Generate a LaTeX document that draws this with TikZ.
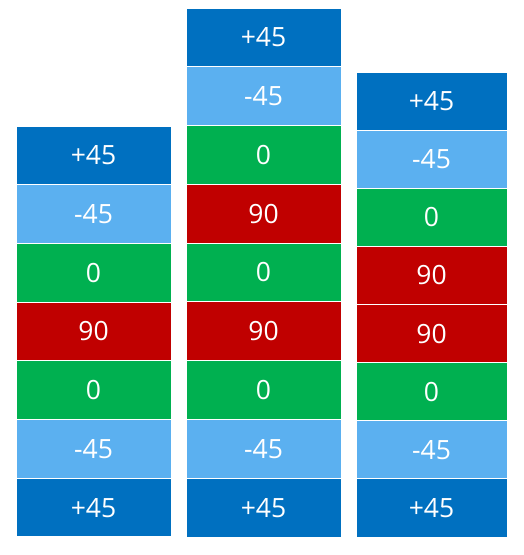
\documentclass[tikz,border=0pt]{standalone}
\usepackage{fontspec}
\setmainfont{Open Sans}
\definecolor{dblue}{HTML}{0070C0}
\definecolor{lblue}{HTML}{5BB0F0}
\definecolor{pgreen}{HTML}{00B050}
\definecolor{pred}{HTML}{C00000}
\tikzset{
  ply/.style={draw=white, line width=1pt, minimum width=155pt, minimum height=#1, inner sep=0pt, outer sep=0pt, text=white, font=\fontsize{26.5}{30}\selectfont, anchor=north},
  p45/.style={ply=#1, fill=dblue},
  m45/.style={ply=#1, fill=lblue},
  z0/.style={ply=#1, fill=pgreen},
  n90/.style={ply=#1, fill=pred},
}
\begin{document}
\begin{tikzpicture}[x=1pt,y=-1pt]
\useasboundingbox (0,0) rectangle (524,555);
% column 1
\foreach \i/\s/\t in {0/p45/+45,1/m45/-45,2/z0/0,3/n90/90,4/z0/0,5/m45/-45,6/p45/+45}{
  \node[\s=58.71pt, minimum width=155pt] (a\i) at (93.5,126+\i*58.71) {\t};
}
% column 2
\foreach \i/\s/\t in {0/p45/+45,1/m45/-45,2/z0/0,3/n90/90,4/z0/0,5/n90/90,6/z0/0,7/m45/-45,8/p45/+45}{
  \node[\s=58.78pt, minimum width=155pt] (b\i) at (263.5,8+\i*58.78) {\t};
}
% column 3
\foreach \i/\s/\t in {0/p45/+45,1/m45/-45,2/z0/0,3/n90/90,4/n90/90,5/z0/0,6/m45/-45,7/p45/+45}{
  \node[\s=58.13pt, minimum width=151pt] (c\i) at (431.5,72+\i*58.13) {\t};
}
\end{tikzpicture}
\end{document}
